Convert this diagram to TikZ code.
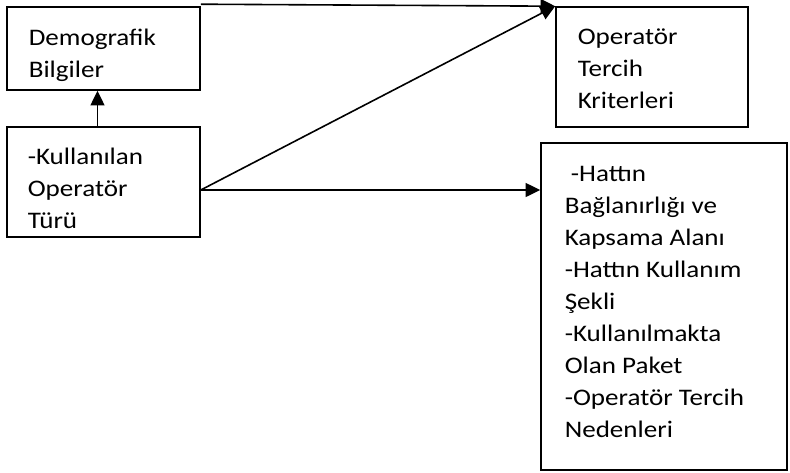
\documentclass[tikz,border=0pt]{standalone}
\usepackage{fontspec}
\setmainfont{Carlito}[FakeStretch=1.14]
\usetikzlibrary{calc,arrows.meta}

\begin{document}
\begin{tikzpicture}[x=0.75pt,y=-0.75pt,line width=1.2pt,-{Triangle[length=11pt,width=10.5pt]},
  box/.style={draw,-,rectangle,inner sep=0pt},
  txt/.style={anchor=base west,align=left,inner sep=0pt,font={\fontsize{17.8}{24}\selectfont}}]
  \useasboundingbox (0,0) rectangle (790,472);
  % boxes, text placed at the baseline of its last line
  \node [box,minimum width=144.75pt,minimum height=62.25pt] (dem) at (103.5,48.5) {};
  \node [txt] (demtxt) at (28,77) {Demografik\\Bilgiler};
  \node [box,minimum width=144.75pt,minimum height=82.5pt] (kul) at (103.5,182) {};
  \node [txt] (kultxt) at (27,228) {-Kullanılan\\Operatör\\Türü};
  \node [box,minimum width=144pt,minimum height=90pt] (ope) at (652,67) {};
  \node [txt] (opetxt) at (577,108) {Operatör\\Tercih\\Kriterleri};
  \node [box,minimum width=184.5pt,minimum height=245.25pt] (big) at (664,306.5) {};
  \node [txt] (bigtxt) at (564,437) {\ -Hattın\\Bağlanırlığı ve\\Kapsama Alanı\\-Hattın Kullanım\\Şekli\\-Kullanılmakta\\Olan Paket\\-Operatör Tercih\\Nedenleri};
  \coordinate (kulout) at ($(kul.east)+(0,8)$);
  \path ($(kul.north)+(-6,0)$) edge ($(dem.south)+(-6,0)$);
  \path ($(dem.north east)+(0,-2)$) edge (ope.north west);
  \path (kulout) edge (ope.north west);
  \path (kulout) edge (kulout -| big.west);
\end{tikzpicture}
\end{document}
